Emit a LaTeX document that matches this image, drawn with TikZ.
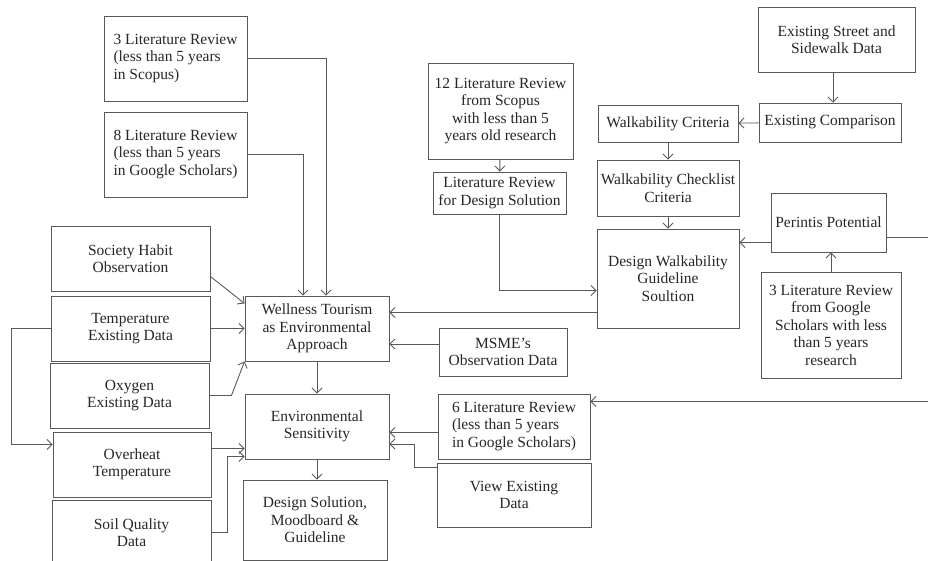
\documentclass[tikz,border=0pt]{standalone}
\usepackage{fontspec}
\setmainfont{Liberation Serif}
\usetikzlibrary{arrows.meta}
\tikzset{
  blk/.style={draw=black!65, line width=0.9pt, text=black!85, align=center,
    inner sep=2pt, font=\fontsize{15.5}{17.5}\selectfont},
  link/.style={draw=black!65, line width=0.9pt, ->},
}

\begin{document}
\begin{tikzpicture}[x=1pt,y=-1pt,>={Straight Barb[length=5pt,width=10pt]}]
\useasboundingbox (0,0) rectangle (928,561);

% left column
\node (lit3) at (175.5,58.5) [blk, align=left, minimum width=143pt, minimum height=85pt] {3 Literature Review\\(less than 5 years\\in Scopus)};
\node (lit8) at (175.5,154.5) [blk, align=left, minimum width=143pt, minimum height=85pt] {8 Literature Review\\(less than 5 years\\in Google Scholars)};
\node (society) at (130.5,258.5) [blk, minimum width=159pt, minimum height=65pt] {Society Habit\\Observation};
\node (temp) at (130.5,328.5) [blk, minimum width=159pt, minimum height=65pt] {Temperature\\Existing Data};
\node (oxygen) at (129.5,395.5) [blk, minimum width=159pt, minimum height=65pt] {Oxygen\\Existing Data};
\node (overheat) at (132,464.5) [blk, minimum width=158pt, minimum height=65pt] {Overheat\\Temperature};
\node (soil) at (131.5,532.5) [blk, minimum width=159pt, minimum height=65pt] {Soil Quality\\Data};

% middle column
\node (wellness) at (317,328.5) [blk, minimum width=144pt, minimum height=65pt] {Wellness Tourism\\as Environmental\\Approach};
\node (envsens) at (317,426.5) [blk, minimum width=144pt, minimum height=65pt] {Environmental\\Sensitivity};
\node (solution) at (315,520) [blk, minimum width=144pt, minimum height=80pt] {Design Solution,\\Moodboard \&\\Guideline};
\node (lit12) at (500.5,111) [blk, minimum width=145pt, minimum height=96pt] {12 Literature Review\\from Scopus\\with less than 5\\years old research};
\node (litdesign) at (499.5,193) [blk, minimum width=133pt, minimum height=42pt] {Literature Review\\for Design Solution};
\node (msme) at (503,352) [blk, minimum width=128pt, minimum height=48pt] {MSME’s\\Observation Data};
\node (lit6) at (514,426.5) [blk, align=left, minimum width=152pt, minimum height=65pt] {6 Literature Review\\(less than 5 years\\in Google Scholars)};
\node (view) at (514,495) [blk, minimum width=154pt, minimum height=64pt] {View Existing\\Data};

% right column
\node (street) at (836.5,39.5) [blk, minimum width=157pt, minimum height=65pt] {Existing Street and\\Sidewalk Data};
\node (compar) at (830,122.5) [blk, minimum width=142pt, minimum height=39pt] {Existing Comparison};
\node (wcrit) at (668,123.5) [blk, minimum width=140pt, minimum height=37pt] {Walkability Criteria};
\node (wcheck) at (668,188) [blk, minimum width=142pt, minimum height=56pt] {Walkability Checklist\\Criteria};
\node (dwalk) at (668,278.5) [blk, minimum width=142pt, minimum height=99pt] {Design Walkability\\Guideline\\Soultion};
\node (perintis) at (828.5,222.5) [blk, minimum width=115pt, minimum height=59pt] {Perintis Potential};
\node (lit3g) at (831,325) [blk, minimum width=140pt, minimum height=106pt] {3 Literature Review\\from Google\\Scholars with less\\than 5 years\\research};

% into wellness
\draw[link] (lit3.east) -| ([xshift=9pt]wellness.north);
\draw[link] (lit8.east) -| ([xshift=-14pt]wellness.north);
\draw[link] ([yshift=-18pt]society.east) -- ([yshift=25pt]wellness.west);
\draw[link] (temp.east) -- (wellness.west);
\draw[link] (oxygen.east) -- ++(22pt,0) -- (wellness.south west);
\draw[link] ([yshift=-34pt]dwalk.west) -- ([yshift=-34pt]dwalk.west -| wellness.east);
\draw[link] ([yshift=8pt]msme.west) -- ([yshift=8pt]msme.west -| wellness.east);

% into environmental sensitivity
\draw[link] (temp.west) -- ++(-39pt,0) |- ([yshift=20pt]overheat.west);
\draw[link] ([yshift=16pt]overheat.east) -- ([yshift=16pt]overheat.east -| envsens.west);
\draw[link] (soil.east) -- ++(16pt,0) |- ([yshift=-30pt]envsens.west);
\draw[link] (wellness) -- (envsens);
\draw[link] ([yshift=-6pt]lit6.west) -- ([yshift=-6pt]lit6.west -| envsens.east);
\draw[link] ([yshift=28pt]view.west) -- ++(-22pt,0) |- ([yshift=-17.5pt]envsens.east);
\draw[link] (envsens.south) -- (envsens.south |- solution.north);

% walkability chain
\draw[link] (lit12) -- (litdesign);
\draw[link] (litdesign.south) |- ([yshift=-12pt]dwalk.west);
\draw[link] ([xshift=3pt]compar.north |- street.south) -- ([xshift=3pt]compar.north);
\draw[link] (compar) -- (wcrit);
\draw[link] (wcrit) -- (wcheck);
\draw[link] (wcheck) -- (dwalk);
\draw[link] ([yshift=-20pt]perintis.west) -- ([yshift=-20pt]perintis.west -| dwalk.east);
\draw[link] (lit3g) -- (lit3g |- perintis.south);
\draw[link] ([yshift=-15pt]perintis.east) -- ++(60pt,0) |- ([yshift=25pt]lit6.east);
\end{tikzpicture}
\end{document}
